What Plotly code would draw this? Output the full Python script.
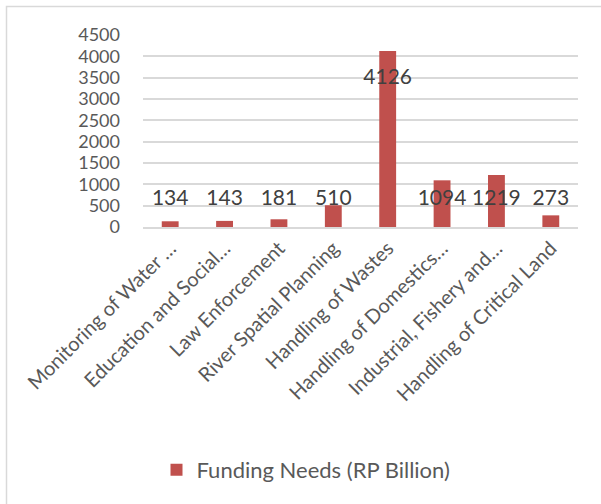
import plotly.graph_objects as go

categories = ["Monitoring of Water …", "Education and Social…", "Law Enforcement",
              "River Spatial Planning", "Handling of Wastes", "Handling of Domestics…",
              "Industrial, Fishery and…", "Handling of Critical Land"]
values = [134, 143, 181, 510, 4126, 1094, 1219, 273]
series_name = "Funding Needs (RP Billion)"

# Data-label anchor: labels sit at a common height unless the bar is very tall
label_y = [630 if v < 2000 else v - 640 for v in values]

W, H = 601, 504
ml, mr, mt, mb = 143, 23, 35, 277
pw, ph = W - ml - mr, H - mt - mb

def px_x(p):
    return (p - ml) / pw

def px_y(p):
    return (H - mb - p) / ph

fig = go.Figure()
fig.add_trace(go.Bar(x=categories, y=values, name=series_name,
                     marker=dict(color="#C0504D", line=dict(width=0))))
fig.add_trace(go.Scatter(x=categories, y=label_y, mode="text",
                         text=[str(v) for v in values], textposition="middle center",
                         textfont=dict(family="Lato", size=21, color="#404040"),
                         showlegend=False, hoverinfo="skip", cliponaxis=False))

fig.add_shape(type="rect", xref="paper", yref="paper",
              x0=px_x(6.5), x1=px_x(700), y0=px_y(700), y1=px_y(6.5),
              line=dict(color="#d9d9d9", width=1.5), layer="below")

fig.update_layout(
    width=W, height=H,
    margin=dict(l=ml, r=mr, t=mt, b=mb, autoexpand=False),
    paper_bgcolor="white", plot_bgcolor="white",
    bargap=0.69,
    font=dict(family="Lato", color="#595959"),
    legend=dict(orientation="h", x=px_x(306), xanchor="center",
                y=px_y(470), yanchor="middle",
                font=dict(family="Lato", size=22, color="#595959"),
                itemwidth=30),
    xaxis=dict(tickangle=-45, tickfont=dict(size=20, color="#595959"),
               showline=True, linecolor="#d9d9d9", linewidth=1.5,
               ticks="", showgrid=False),
    yaxis=dict(range=[0, 4500], dtick=500, tickfont=dict(size=18, color="#595959"),
               showgrid=True, gridcolor="#d9d9d9", gridwidth=1.5,
               zeroline=False, showline=False, ticks="",
               ticklabelstandoff=22),
)

fig.write_html("out.html", config={"displayModeBar": False},
               post_script="document.body.style.margin='0';document.body.style.overflow='hidden';")
